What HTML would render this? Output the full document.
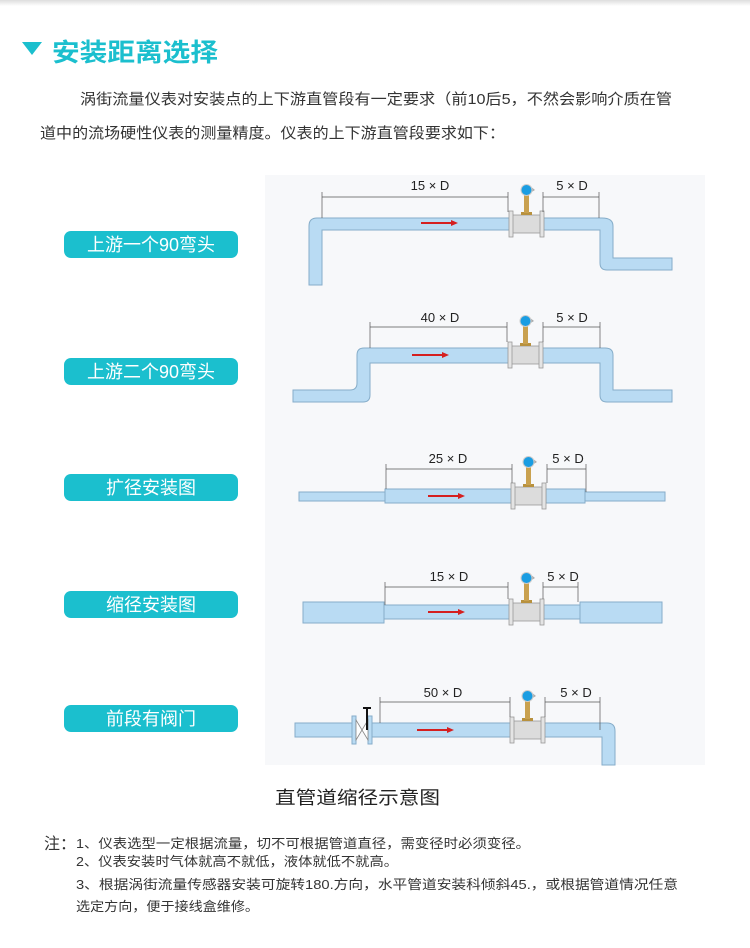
<!DOCTYPE html>
<html><head><meta charset="utf-8"><style>
body{margin:0;background:#fff;width:750px;height:943px;overflow:hidden;font-family:"Liberation Sans","Noto Sans CJK SC",sans-serif}
</style></head><body>
<svg width="750" height="943" viewBox="0 0 750 943" xmlns="http://www.w3.org/2000/svg" font-family="Liberation Sans, Noto Sans CJK SC, sans-serif">
<defs>
<linearGradient id="tg" x1="0" y1="0" x2="0" y2="1"><stop offset="0" stop-color="#ddd"/><stop offset="1" stop-color="#fff"/></linearGradient>
<g id="m">
<rect x="0" y="-9" width="33" height="18" fill="#dcdcdc" stroke="#999" stroke-width="0.8"/>
<rect x="-1" y="-13" width="4" height="26" fill="#e4e4e4" stroke="#999" stroke-width="0.8"/>
<rect x="30" y="-13" width="4" height="26" fill="#e4e4e4" stroke="#999" stroke-width="0.8"/>
<rect x="11" y="-12" width="11" height="3" fill="#b8913e"/>
<rect x="14" y="-30" width="5" height="19" fill="#c9a14f"/>
<path d="M20 -38 L25 -34 L20 -31Z" fill="#aaa"/>
<circle cx="16.5" cy="-34" r="6" fill="#ccc"/>
<circle cx="16.5" cy="-34" r="5" fill="#1a9de2"/>
</g>
<g id="ar"><line x1="0" y1="0" x2="32" y2="0" stroke="#d51f1f" stroke-width="2"/><path d="M30 -3 L37 0 L30 3Z" fill="#d51f1f"/></g>
</defs>
<rect x="0" y="0" width="750" height="6" fill="url(#tg)"/>
<path d="M22 42 L42 42 L32 55Z" fill="#1bbfce"/>
<text x="52" y="61" font-size="25" font-weight="bold" fill="#1bbfce" textLength="166" lengthAdjust="spacingAndGlyphs">安装距离选择</text>
<text x="80" y="104" font-size="15" fill="#333" textLength="592" lengthAdjust="spacingAndGlyphs">涡街流量仪表对安装点的上下游直管段有一定要求（前10后5，不然会影响介质在管</text>
<text x="40" y="138" font-size="15" fill="#333" textLength="465" lengthAdjust="spacingAndGlyphs">道中的流场硬性仪表的测量精度。仪表的上下游直管段要求如下：</text>

<rect x="265" y="175" width="440" height="590" fill="#f7f8fa"/>
<g fill="#b9dbf3" stroke="#86adc9" stroke-width="1">
<path d="M309 285 L309 226 Q309 218 317 218 L602 218 Q613 218 613 226 L613 258 L672 258 L672 270 L607 270 Q600 270 600 263 L600 230 L322 230 L322 285Z"/>
<path d="M293 390 L350 390 Q357 390 357 383 L357 355 Q357 348 364 348 L605 348 Q613 348 613 355 L613 390 L672 390 L672 402 L607 402 Q600 402 600 395 L600 363 L370 363 L370 395 Q370 402 363 402 L293 402Z"/>
<rect x="299" y="492" width="86" height="9"/><rect x="385" y="489" width="128" height="14"/>
<rect x="546" y="489" width="39" height="14"/><rect x="585" y="492" width="80" height="9"/>
<rect x="303" y="602" width="81" height="21"/><rect x="384" y="605" width="127" height="14"/>
<rect x="543" y="605" width="37" height="14"/><rect x="580" y="602" width="82" height="21"/>
<rect x="295" y="723" width="57" height="14"/><rect x="372" y="723" width="139" height="14"/>
<path d="M544 723 L607 723 Q615 723 615 731 L615 765 L602 765 L602 737 L544 737Z"/>
</g>
<rect x="352" y="716" width="4" height="28" fill="#b9dbf3" stroke="#86adc9"/>
<rect x="368" y="716" width="4" height="28" fill="#b9dbf3" stroke="#86adc9"/>
<path d="M356 720 L368 740 L368 720 L356 740Z" fill="#fff" stroke="#888" stroke-width="0.8"/>
<line x1="367" y1="708" x2="367" y2="730" stroke="#111" stroke-width="2"/><line x1="363" y1="708" x2="371" y2="708" stroke="#111" stroke-width="2"/>

<use href="#m" x="510" y="224"/><use href="#m" x="509" y="355"/><use href="#m" x="512" y="496"/><use href="#m" x="510" y="612"/><use href="#m" x="511" y="730"/>
<use href="#ar" x="421" y="223"/><use href="#ar" x="412" y="355"/><use href="#ar" x="428" y="496"/><use href="#ar" x="428" y="612"/><use href="#ar" x="417" y="730"/>

<g stroke="#555" stroke-width="0.7" fill="none">
<path d="M322 197 H508 M543 197 H599 M322 192 V218 M508 192 V212 M543 192 V212 M599 192 V218"/>
<path d="M370 327 H507 M543 327 H600 M370 322 V348 M507 322 V342 M543 322 V342 M600 322 V348"/>
<path d="M386 469 H512 M547 469 H586 M386 464 V489 M512 464 V483 M547 464 V483 M586 464 V492"/>
<path d="M385 587 H508 M543 587 H578 M385 582 V605 M508 582 V599 M543 582 V599 M578 582 V602"/>
<path d="M380 702 H510 M545 702 H600 M380 697 V723 M510 697 V717 M545 697 V717 M600 697 V730"/>
</g>
<g font-size="13" fill="#222" text-anchor="middle">
<text x="430" y="190">15 × D</text><text x="572" y="190">5 × D</text>
<text x="440" y="322">40 × D</text><text x="572" y="322">5 × D</text>
<text x="448" y="463">25 × D</text><text x="568" y="463">5 × D</text>
<text x="449" y="581">15 × D</text><text x="563" y="581">5 × D</text>
<text x="443" y="697">50 × D</text><text x="576" y="697">5 × D</text>
</g>
<g fill="#1bbfce">
<rect x="64" y="231" width="174" height="27" rx="7"/><rect x="64" y="358" width="174" height="27" rx="7"/>
<rect x="64" y="474" width="174" height="27" rx="7"/><rect x="64" y="591" width="174" height="27" rx="7"/>
<rect x="64" y="705" width="174" height="27" rx="7"/>
</g>
<g font-size="18" fill="#fff" text-anchor="middle">
<text x="151" y="251">上游一个90弯头</text><text x="151" y="378">上游二个90弯头</text>
<text x="151" y="494">扩径安装图</text><text x="151" y="611">缩径安装图</text><text x="151" y="725">前段有阀门</text>
</g>
<text x="275" y="804" font-size="18" fill="#222" textLength="165" lengthAdjust="spacingAndGlyphs">直管道缩径示意图</text>
<text x="44" y="849" font-size="16" fill="#333">注：</text>
<g font-size="13" fill="#333" lengthAdjust="spacingAndGlyphs">
<text x="76" y="848" textLength="454" lengthAdjust="spacingAndGlyphs">1、仪表选型一定根据流量，切不可根据管道直径，需变径时必须变径。</text>
<text x="76" y="866" textLength="322" lengthAdjust="spacingAndGlyphs">2、仪表安装时气体就高不就低，液体就低不就高。</text>
<text x="76" y="889" textLength="602" lengthAdjust="spacingAndGlyphs">3、根据涡街流量传感器安装可旋转180.方向，水平管道安装科倾斜45.，或根据管道情况任意</text>
<text x="76" y="911" textLength="183" lengthAdjust="spacingAndGlyphs">选定方向，便于接线盒维修。</text>
</g>
</svg>
</body></html>
